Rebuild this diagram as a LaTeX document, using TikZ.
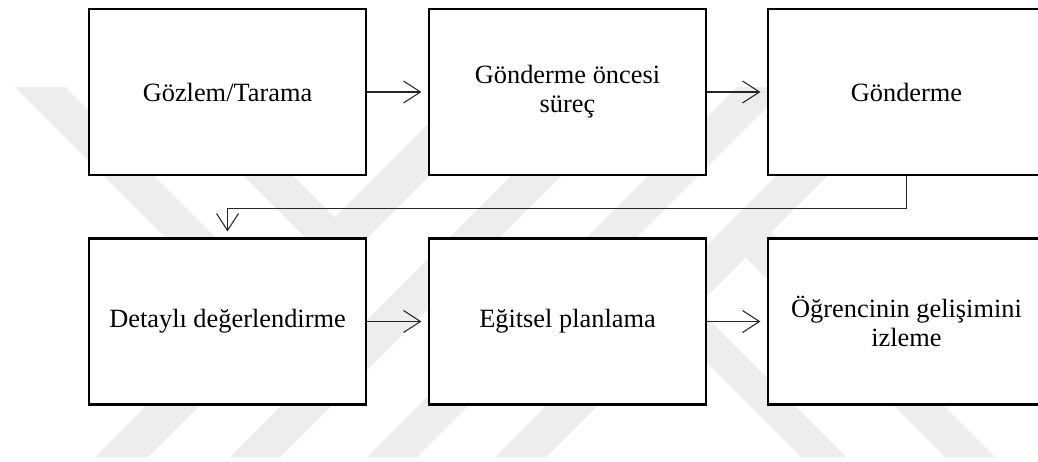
\documentclass[tikz,border=0pt]{standalone}
\usepackage{fontspec}
\setmainfont{Liberation Serif}
\usetikzlibrary{arrows.meta}

\tikzset{
	box/.style={draw=black, fill=white, line width=1.2pt, minimum width=5.54cm, minimum height=3.32cm, align=center, inner sep=2pt, font=\fontsize{15}{16.5}\selectfont},
	flow/.style={draw=black!85, line width=0.6pt, -{Straight Barb[length=3.4mm,width=4.4mm]}},
	band/.style={fill=black!7, draw=none}
}

\begin{document}
\begin{tikzpicture}
	    \useasboundingbox (0,0) rectangle (20.76,9.24);
	    \begin{scope}[x=0.02cm, y=-0.02cm, yshift=9.24cm]
	    \fill[band] (465,87) -- (518,87) -- (148,457) -- (95,457) -- cycle;
	    \fill[band] (600,87) -- (650,87) -- (280,457) -- (230,457) -- cycle;
	    \fill[band] (737,87) -- (787,87) -- (417,457) -- (367,457) -- cycle;
	    \fill[band] (865,87) -- (916,87) -- (546,457) -- (495,457) -- cycle;
	    \fill[band] (15,87) -- (65,87) -- (265,287) -- (240,312) -- cycle;
	    \fill[band] (155,87) -- (204,87) -- (334.5,217.5) -- (310,242) -- cycle;
	    \fill[band] (673.5,329.5) -- (696,307) -- (846,457) -- (801,457) -- cycle;
	    \fill[band] (745.5,257.5) -- (770.5,232.5) -- (995,457) -- (945,457) -- cycle;
	    \end{scope}
	    \node[box] (obs) at (4.55,7.40) {Gözlem/Tarama};
	    \node[box] (pre) at (11.35,7.40) {Gönderme öncesi\\süreç};
	    \node[box] (ref) at (18.13,7.40) {Gönderme};
	    \node[box] (eval) at (4.55,2.81) {Detaylı değerlendirme};
	    \node[box] (plan) at (11.35,2.81) {Eğitsel planlama};
	    \node[box] (track) at (18.13,2.81) {Öğrencinin gelişimini\\izleme};
	    \draw[flow, shorten >=1.3mm] (obs) -- (pre);
	    \draw[flow, shorten >=1.3mm] (pre) -- (ref);
	    \draw[flow, shorten >=1.2mm] (ref.south) -- ++(0,-0.64) -| (eval.north);
	    \draw[flow, shorten >=1.3mm] (eval) -- (plan);
	    \draw[flow, shorten >=1.3mm] (plan) -- (track);
\end{tikzpicture}
\end{document}
